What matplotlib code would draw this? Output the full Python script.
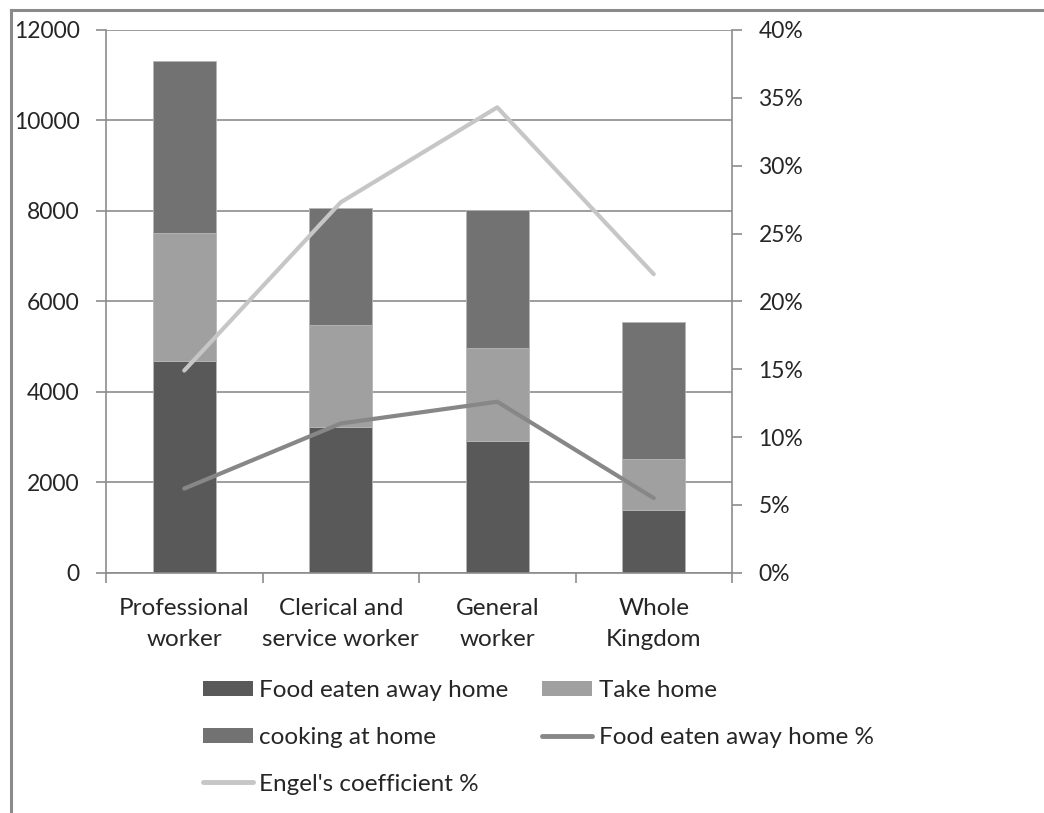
import matplotlib
matplotlib.use("Agg")
import matplotlib.pyplot as plt
from matplotlib.lines import Line2D
from matplotlib.patches import Patch
from matplotlib.ticker import FuncFormatter, MultipleLocator, FixedLocator

plt.rcParams['font.family'] = ['Lato', 'DejaVu Sans']

categories = ["Professional\nworker", "Clerical and\nservice worker", "General\nworker", "Whole\nKingdom"]
food_away = [4690, 3220, 2920, 1390]
take_home = [2830, 2250, 2050, 1120]
cooking_home = [3800, 2600, 3040, 3030]
food_away_pct = [6.2, 11.0, 12.6, 5.5]
engel_pct = [14.9, 27.3, 34.3, 22.0]

c_away = "#595959"
c_take = "#a0a0a0"
c_cook = "#727272"
c_away_line = "#878787"
c_engel = "#c6c6c6"
c_axis = "#8c8c8c"
txt = "#262626"
fs_tick = 16.5
fs = 17.5

fig = plt.figure(figsize=(10.44, 8.13), dpi=100)
ax = fig.add_axes([106/1044, 1 - 572.7/813, (732 - 106)/1044, (572.7 - 30)/813])

x = list(range(len(categories)))
w = 0.4
b2 = [a + t for a, t in zip(food_away, take_home)]
edge = dict(edgecolor="#b5b5b5", linewidth=0.6)
ax.bar(x, food_away, w, color=c_away, zorder=2, **edge)
ax.bar(x, take_home, w, bottom=food_away, color=c_take, zorder=2, **edge)
ax.bar(x, cooking_home, w, bottom=b2, color=c_cook, zorder=2, **edge)

ax.set_xlim(-0.5, len(categories) - 0.5)
ax.set_ylim(0, 12000)
ax.yaxis.set_major_locator(MultipleLocator(2000))
ax.grid(axis="y", color=c_axis, linewidth=1.2, zorder=0)
ax.set_axisbelow(True)

for s in ["top", "right"]:
    ax.spines[s].set_visible(False)
for s in ["left", "bottom"]:
    ax.spines[s].set_color(c_axis)
    ax.spines[s].set_linewidth(1.2)

ax.tick_params(axis="y", direction="out", length=7, width=1.2, color=c_axis,
               labelsize=fs_tick, labelcolor=txt, pad=12)
ax.set_xticks(x)
ax.set_xticklabels(categories, fontsize=fs, color=txt, linespacing=1.55)
ax.xaxis.set_minor_locator(FixedLocator([i - 0.5 for i in range(len(categories) + 1)]))
ax.tick_params(axis="x", which="major", length=0, pad=18.5)
ax.tick_params(axis="x", which="minor", direction="out", length=7, width=1.2, color=c_axis)

ax2 = ax.twinx()
ax2.set_ylim(0, 40)
ax2.yaxis.set_major_locator(MultipleLocator(5))
ax2.yaxis.set_major_formatter(FuncFormatter(lambda v, p: f"{v:.0f}%"))
for s in ["top", "left", "bottom"]:
    ax2.spines[s].set_visible(False)
ax2.spines["right"].set_color(c_axis)
ax2.spines["right"].set_linewidth(1.2)
ax2.tick_params(axis="y", direction="out", length=7, width=1.2, color=c_axis,
                labelsize=fs_tick, labelcolor=txt, pad=12)

ax2.plot(x, food_away_pct, color=c_away_line, linewidth=3, solid_capstyle="round", zorder=3)
ax2.plot(x, engel_pct, color=c_engel, linewidth=3, solid_capstyle="round", zorder=3)

handles = [
    Patch(facecolor=c_away, edgecolor="none"),
    Patch(facecolor=c_cook, edgecolor="none"),
    Line2D([0], [0], color=c_engel, linewidth=3.5, solid_capstyle="round"),
    Patch(facecolor=c_take, edgecolor="none"),
    Line2D([0], [0], color=c_away_line, linewidth=3.5, solid_capstyle="round"),
]
labels = ["Food eaten away home", "cooking at home", "Engel's coefficient %",
          "Take home", "Food eaten away home %"]
leg = fig.legend(handles, labels, ncol=2, loc="upper left",
                 bbox_to_anchor=(203/1044, 1 - 680/813), frameon=False,
                 fontsize=fs, handlelength=2.06, handleheight=0.58,
                 handletextpad=0.25, labelspacing=1.06, columnspacing=1.4,
                 borderaxespad=0, borderpad=0)
for t in leg.get_texts():
    t.set_color(txt)

# outer frame of the chart area
fig.add_artist(Line2D([11/1044, 1], [1 - 10/813, 1 - 10/813], color="#8a8a8a",
                      linewidth=2.2, transform=fig.transFigure))
fig.add_artist(Line2D([11/1044, 11/1044], [0, 1 - 10/813], color="#8a8a8a",
                      linewidth=2.2, transform=fig.transFigure))

fig.savefig("out.png", dpi=100, facecolor="white")
